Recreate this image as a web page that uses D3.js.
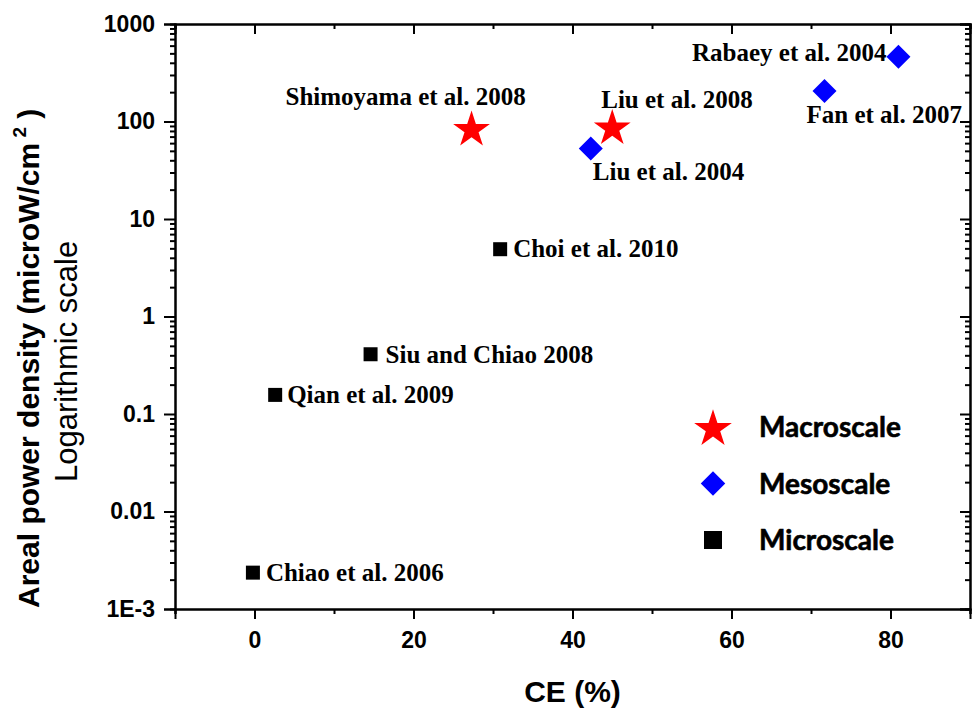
<!DOCTYPE html>
<html>
<head>
<meta charset="utf-8">
<script src="https://cdn.jsdelivr.net/npm/d3@7"></script>
<style>
  body { margin: 0; background: #fff; }
  svg { display: block; }
  .axis path, .axis line { stroke: #000; stroke-width: 2; }
  .axis text { font-family: "Liberation Sans", Arial, sans-serif; font-weight: bold; font-size: 23px; fill: #000; }
  .lbl { font-family: "Liberation Serif", "Times New Roman", serif; font-weight: bold; font-size: 25px; fill: #000; }
  .leg { font-family: Lato, "Open Sans", sans-serif; font-weight: bold; font-size: 28px; fill: #000; stroke: #000; stroke-width: 0.6; }
</style>
</head>
<body>
<script>
// data (CE in %, areal power density in microW/cm2)
const macroNames = ["Shimoyama et al. 2008", "Liu et al. 2008"];
const macroCE = [27.3, 45.0];
const macroPD = [86, 89];

const mesoNames = ["Liu et al. 2004", "Rabaey et al. 2004", "Fan et al. 2007"];
const mesoCE = [42.3, 81.0, 71.7];
const mesoPD = [53, 462, 206];

const microNames = ["Choi et al. 2010", "Siu and Chiao 2008", "Qian et al. 2009", "Chiao et al. 2006"];
const microCE = [30.9, 14.6, 2.6, -0.2];
const microPD = [4.9, 0.41, 0.157, 0.00236];

const xTicks = [0, 20, 40, 60, 80];
const yTicks = [1e-3, 0.01, 0.1, 1, 10, 100, 1000];
const yTickLabels = ["1E-3", "0.01", "0.1", "1", "10", "100", "1000"];
const legendNames = ["Macroscale", "Mesoscale", "Microscale"];

const W = 972, H = 711;
const svg = d3.select("body").append("svg").attr("width", W).attr("height", H);

const x = d3.scaleLinear().domain([-10, 90]).range([175, 970]);
const y = d3.scaleLog().domain([1e-3, 1e3]).range([609, 24]);

// minor ticks
const xMinor = d3.range(-10, 91, 10).filter((v) => xTicks.indexOf(v) < 0);
var yMinor = [];
for (var p = -3; p < 3; p++) for (var k = 2; k < 10; k++) yMinor.push(k * Math.pow(10, p));

// left axis
svg.append("g").attr("class", "axis").attr("transform", `translate(${x(-10)},0)`)
  .call(d3.axisLeft(y).tickValues(yMinor).tickSize(5).tickFormat(""));
svg.append("g").attr("class", "axis").attr("transform", `translate(${x(-10)},0)`)
  .call(d3.axisLeft(y).tickValues(yTicks).tickSize(11).tickPadding(9).tickFormat((d, i) => yTickLabels[i]));

// right axis (ticks point inwards)
svg.append("g").attr("class", "axis").attr("transform", `translate(${x(90)},0)`)
  .call(d3.axisRight(y).tickValues(yMinor).tickSize(-5).tickFormat(""));
svg.append("g").attr("class", "axis").attr("transform", `translate(${x(90)},0)`)
  .call(d3.axisRight(y).tickValues(yTicks).tickSize(-10).tickFormat(""));

// bottom axis
svg.append("g").attr("class", "axis").attr("transform", `translate(0,${y(1e-3)})`)
  .call(d3.axisBottom(x).tickValues(xMinor).tickSize(5).tickFormat(""));
svg.append("g").attr("class", "axis").attr("transform", `translate(0,${y(1e-3)})`)
  .call(d3.axisBottom(x).tickValues(xTicks).tickSize(10).tickPadding(13).tickFormat(d3.format("d")));

// top axis (ticks point inwards)
svg.append("g").attr("class", "axis").attr("transform", `translate(0,${y(1e3)})`)
  .call(d3.axisTop(x).tickValues(xMinor).tickSize(-5).tickFormat(""));
svg.append("g").attr("class", "axis").attr("transform", `translate(0,${y(1e3)})`)
  .call(d3.axisTop(x).tickValues(xTicks).tickSize(-10).tickFormat(""));

// axis titles
svg.append("text")
  .attr("x", (x(-10) + x(90)) / 2).attr("y", 702)
  .attr("text-anchor", "middle")
  .style("font-family", "Liberation Sans, Arial, sans-serif").style("font-weight", "bold").style("font-size", "30px")
  .text("CE (%)");

const yt = svg.append("text")
  .attr("transform", "translate(39,608) rotate(-90)")
  .style("font-family", "Liberation Sans, Arial, sans-serif").style("font-weight", "bold").style("font-size", "30px");
yt.append("tspan").text("Areal power density (microW/cm");
yt.append("tspan").attr("dy", -13).style("font-size", "19px").text(" 2");
yt.append("tspan").attr("dy", 13).text(" )");

svg.append("text")
  .attr("transform", "translate(77,482) rotate(-90)")
  .style("font-family", "Liberation Sans, Arial, sans-serif").style("font-size", "31px")
  .text("Logarithmic scale");

// symbols
const star = (s) => d3.symbol(d3.symbolStar, s)();
const sq = (s) => d3.symbol(d3.symbolSquare, s)();

const macro = macroNames.map((n, i) => ({ name: n, ce: macroCE[i], pd: macroPD[i] }));
const meso = mesoNames.map((n, i) => ({ name: n, ce: mesoCE[i], pd: mesoPD[i] }));
const micro = microNames.map((n, i) => ({ name: n, ce: microCE[i], pd: microPD[i] }));

// label placement relative to the point: [dx, dy, anchor]
const labelPos = {
  "Shimoyama et al. 2008": [-186, -23, "start"],
  "Liu et al. 2008": [-11, -18, "start"],
  "Liu et al. 2004": [2, 32, "start"],
  "Rabaey et al. 2004": [-12, 4, "end"],
  "Fan et al. 2007": [-18, 32, "start"],
  "Choi et al. 2010": [13, 8, "start"],
  "Siu and Chiao 2008": [15, 9, "start"],
  "Qian et al. 2009": [12, 8, "start"],
  "Chiao et al. 2006": [13, 8, "start"],
};

const pts = svg.append("g");
pts.selectAll(".macro").data(macro).join("path")
  .attr("transform", (d) => `translate(${x(d.ce)},${y(d.pd) + 2})`)
  .attr("d", star(420)).attr("fill", "#ff0000");
pts.selectAll(".meso").data(meso).join("path")
  .attr("transform", (d) => `translate(${x(d.ce)},${y(d.pd)}) rotate(45)`)
  .attr("d", sq(288)).attr("fill", "#0000ff");
pts.selectAll(".micro").data(micro).join("path")
  .attr("transform", (d) => `translate(${x(d.ce)},${y(d.pd)})`)
  .attr("d", sq(196)).attr("fill", "#000");

svg.append("g").selectAll("text").data([...macro, ...meso, ...micro]).join("text")
  .attr("class", "lbl")
  .attr("x", (d) => x(d.ce) + labelPos[d.name][0])
  .attr("y", (d) => y(d.pd) + labelPos[d.name][1])
  .attr("text-anchor", (d) => labelPos[d.name][2])
  .text((d) => d.name);

// legend
const leg = svg.append("g").attr("transform", "translate(713,427)");
const legShapes = [
  { d: star(440), fill: "#ff0000", rot: 0, dy: 2 },
  { d: sq(300), fill: "#0000ff", rot: 45, dy: 0 },
  { d: sq(324), fill: "#000", rot: 0, dy: 0 },
];
legendNames.forEach((n, i) => {
  const g = leg.append("g").attr("transform", `translate(0,${i * 56.5})`);
  g.append("path").attr("d", legShapes[i].d).attr("fill", legShapes[i].fill)
    .attr("transform", `translate(0,${legShapes[i].dy}) rotate(${legShapes[i].rot})`);
  g.append("text").attr("class", "leg").attr("x", 46).attr("y", 10).text(n);
});
</script>
</body>
</html>
